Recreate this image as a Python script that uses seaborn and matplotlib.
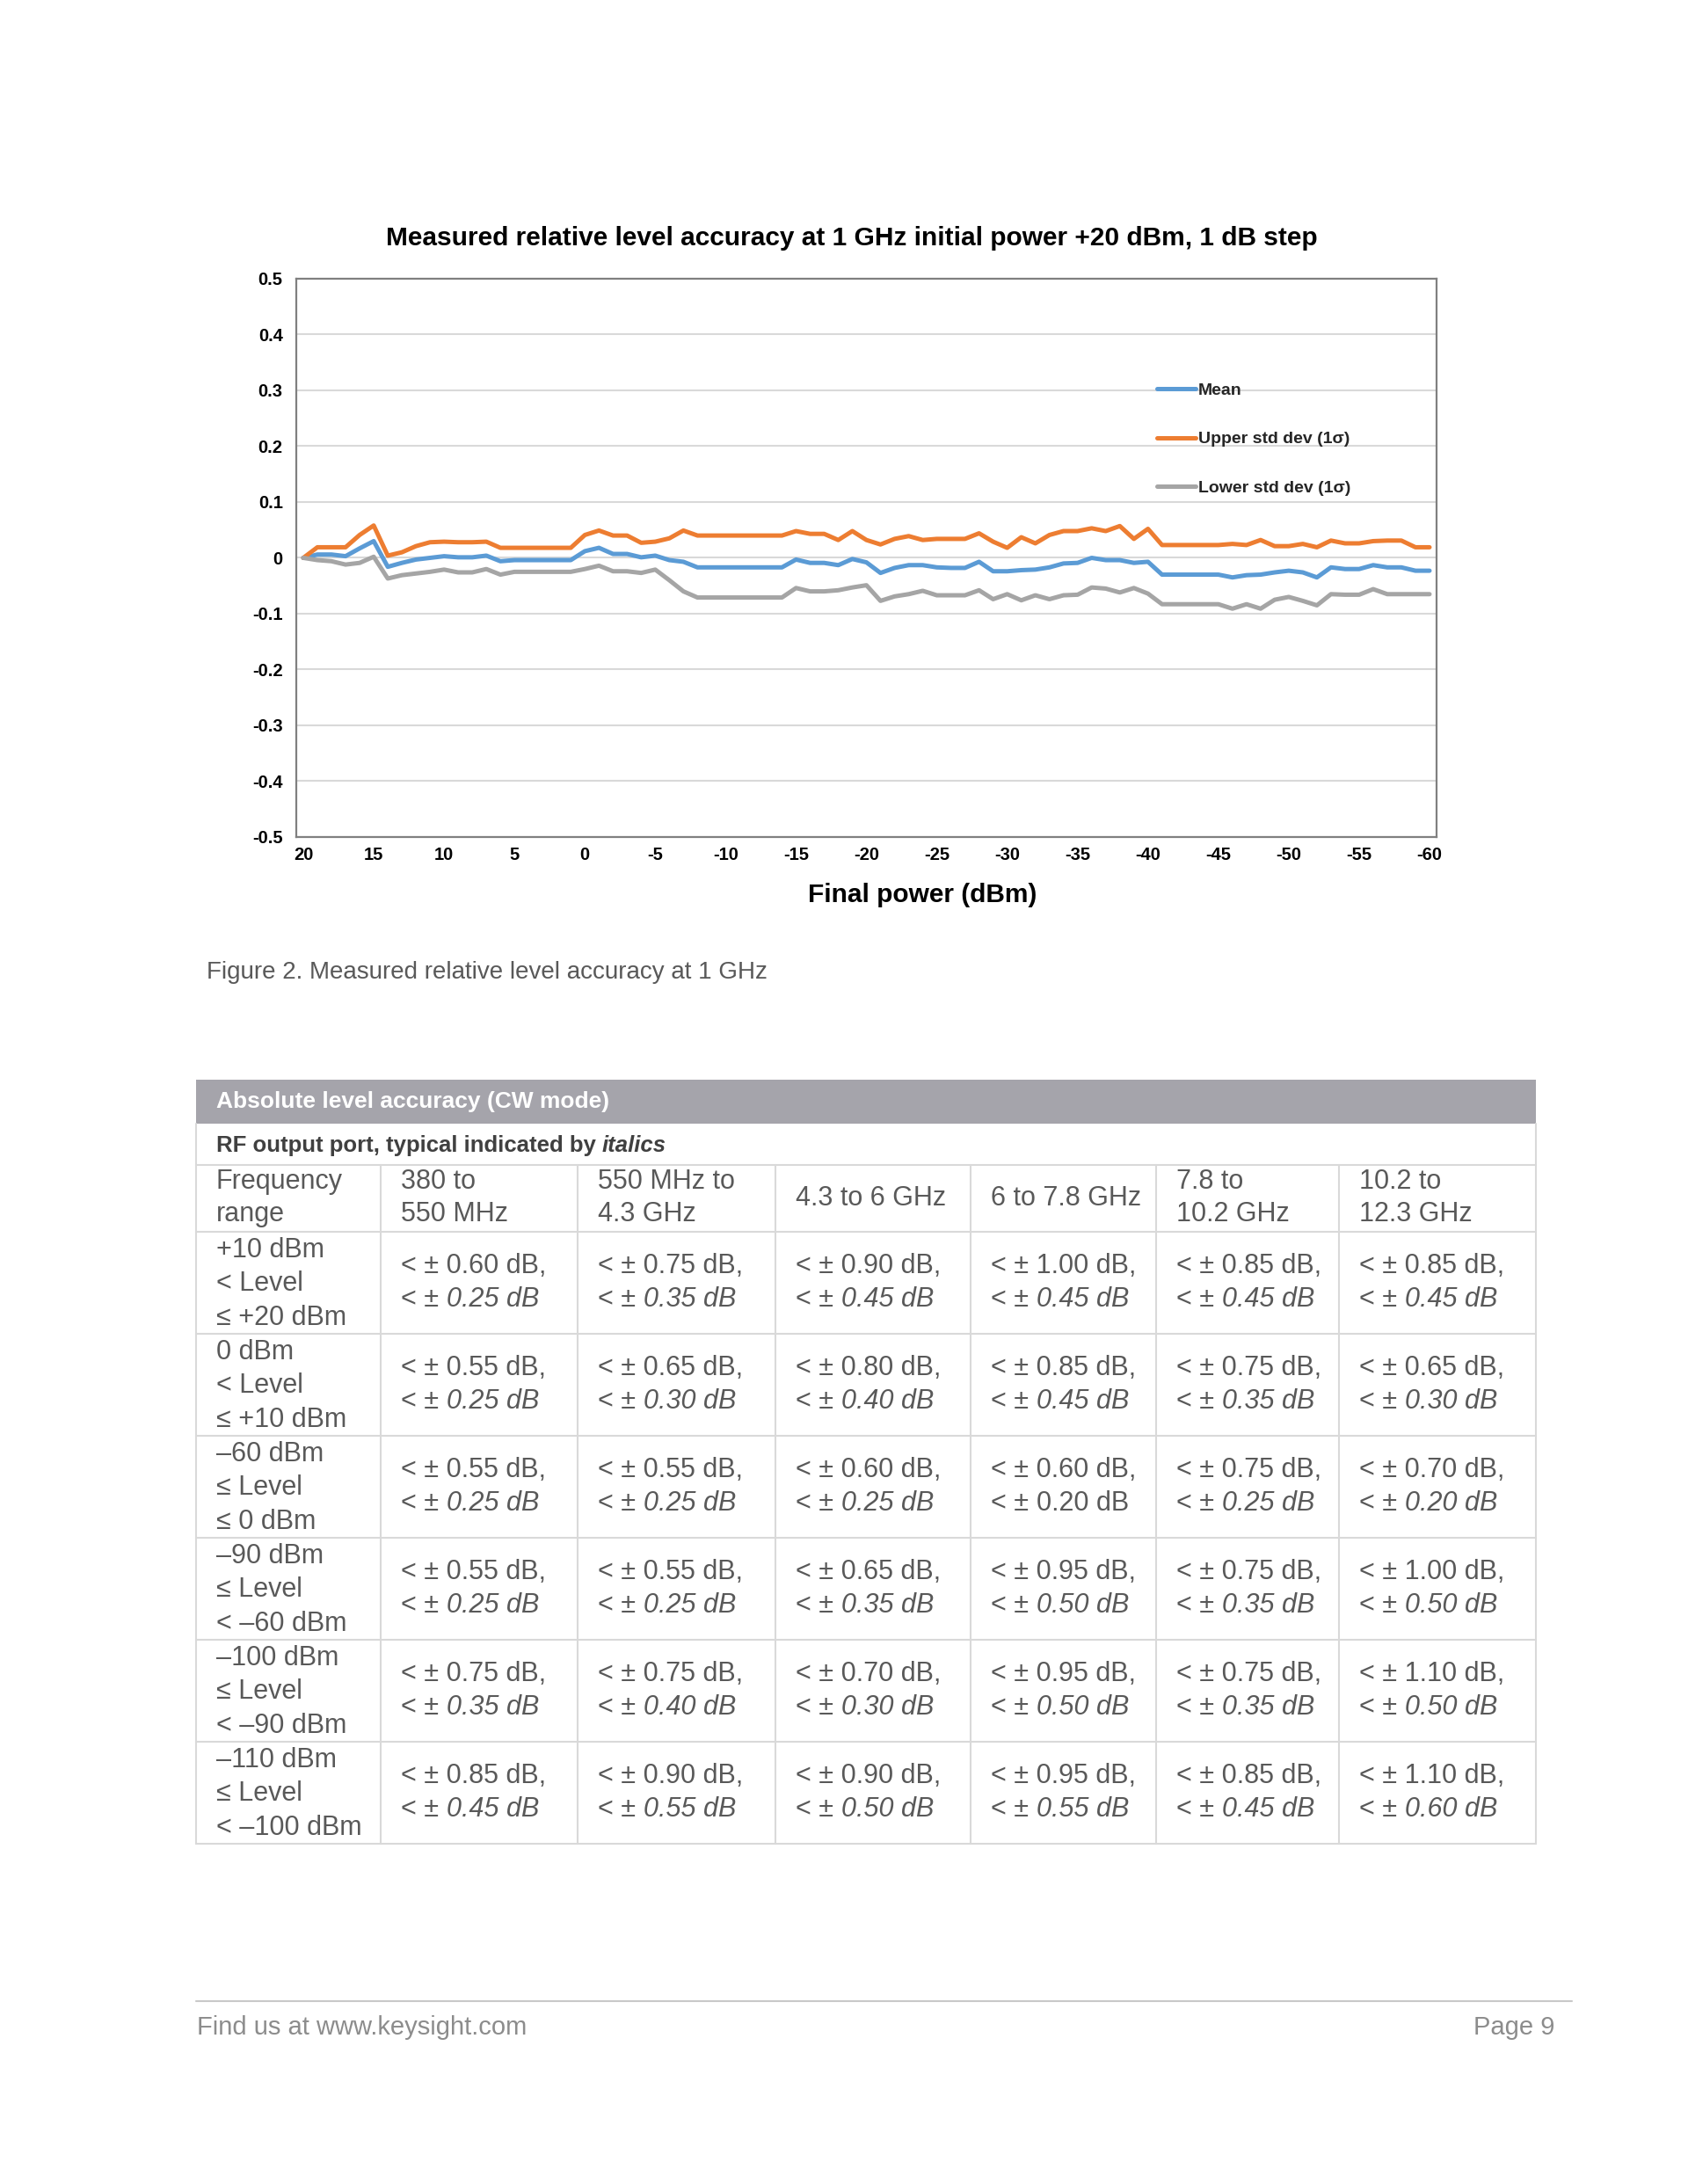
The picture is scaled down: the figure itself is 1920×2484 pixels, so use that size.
import numpy as np
import pandas as pd
import seaborn as sns
import matplotlib.pyplot as plt
from matplotlib.patches import Rectangle

# ---- chart data ----
power = list(range(20, -61, -1))

mean_db = [0.000, 0.006, 0.006, 0.003, 0.017, 0.030, -0.016, -0.009, -0.003, 0.000,
           0.003, 0.001, 0.001, 0.004, -0.006, -0.004, -0.004, -0.004, -0.004, -0.004,
           0.012, 0.018, 0.007, 0.007, 0.001, 0.004, -0.004, -0.007, -0.017, -0.017,
           -0.017, -0.017, -0.017, -0.017, -0.017, -0.003, -0.009, -0.009, -0.013, -0.002,
           -0.008, -0.027, -0.018, -0.013, -0.013, -0.017, -0.018, -0.018, -0.007, -0.024,
           -0.024, -0.022, -0.021, -0.017, -0.010, -0.009, 0.000, -0.004, -0.004, -0.009,
           -0.007, -0.030, -0.030, -0.030, -0.030, -0.030, -0.035, -0.031, -0.030, -0.026,
           -0.023, -0.026, -0.035, -0.017, -0.020, -0.020, -0.013, -0.017, -0.017, -0.023,
           -0.023]

upper_db = [0.000, 0.019, 0.019, 0.019, 0.041, 0.058, 0.004, 0.010, 0.021, 0.028,
            0.029, 0.028, 0.028, 0.029, 0.018, 0.018, 0.018, 0.018, 0.018, 0.018,
            0.041, 0.049, 0.040, 0.040, 0.027, 0.029, 0.035, 0.049, 0.040, 0.040,
            0.040, 0.040, 0.040, 0.040, 0.040, 0.048, 0.043, 0.043, 0.032, 0.048,
            0.032, 0.024, 0.034, 0.039, 0.032, 0.034, 0.034, 0.034, 0.044, 0.029,
            0.018, 0.037, 0.026, 0.041, 0.048, 0.048, 0.053, 0.048, 0.057, 0.034,
            0.052, 0.023, 0.023, 0.023, 0.023, 0.023, 0.025, 0.023, 0.032, 0.021,
            0.021, 0.025, 0.019, 0.031, 0.026, 0.026, 0.030, 0.031, 0.031, 0.019,
            0.019]

lower_db = [0.000, -0.004, -0.006, -0.012, -0.009, 0.002, -0.037, -0.031, -0.028, -0.025,
            -0.021, -0.026, -0.026, -0.020, -0.030, -0.025, -0.025, -0.025, -0.025, -0.025,
            -0.020, -0.014, -0.024, -0.024, -0.027, -0.021, -0.040, -0.060, -0.071, -0.071,
            -0.071, -0.071, -0.071, -0.071, -0.071, -0.054, -0.060, -0.060, -0.058, -0.053,
            -0.049, -0.077, -0.069, -0.065, -0.059, -0.067, -0.067, -0.067, -0.058, -0.074,
            -0.065, -0.076, -0.067, -0.074, -0.067, -0.066, -0.053, -0.055, -0.062, -0.054,
            -0.064, -0.083, -0.083, -0.083, -0.083, -0.083, -0.091, -0.083, -0.091, -0.075,
            -0.070, -0.077, -0.085, -0.065, -0.066, -0.066, -0.056, -0.065, -0.065, -0.065,
            -0.065]

series_names = ["Mean", "Upper std dev (1σ)", "Lower std dev (1σ)"]
series_colors = ["#5b9bd5", "#ed7d31", "#a5a5a5"]

x_ticks = power[::5]
y_ticks = [-0.5, -0.4, -0.3, -0.2, -0.1, 0.0, 0.1, 0.2, 0.3, 0.4, 0.5]

# ---- table data ----
freq_ranges = ["380 to\n550 MHz", "550 MHz to\n4.3 GHz", "4.3 to 6 GHz",
               "6 to 7.8 GHz", "7.8 to\n10.2 GHz", "10.2 to\n12.3 GHz"]
level_ranges = ["+10 dBm\n< Level\n≤ +20 dBm", "0 dBm\n< Level\n≤ +10 dBm",
                "–60 dBm\n≤ Level\n≤ 0 dBm", "–90 dBm\n≤ Level\n< –60 dBm",
                "–100 dBm\n≤ Level\n< –90 dBm", "–110 dBm\n≤ Level\n< –100 dBm"]
spec_db = [[0.60, 0.75, 0.90, 1.00, 0.85, 0.85],
           [0.55, 0.65, 0.80, 0.85, 0.75, 0.65],
           [0.55, 0.55, 0.60, 0.60, 0.75, 0.70],
           [0.55, 0.55, 0.65, 0.95, 0.75, 1.00],
           [0.75, 0.75, 0.70, 0.95, 0.75, 1.10],
           [0.85, 0.90, 0.90, 0.95, 0.85, 1.10]]
typ_db = [[0.25, 0.35, 0.45, 0.45, 0.45, 0.45],
          [0.25, 0.30, 0.40, 0.45, 0.35, 0.30],
          [0.25, 0.25, 0.25, 0.20, 0.25, 0.20],
          [0.25, 0.25, 0.35, 0.50, 0.35, 0.50],
          [0.35, 0.40, 0.30, 0.50, 0.35, 0.50],
          [0.45, 0.55, 0.50, 0.55, 0.45, 0.60]]
# cells whose second value is printed upright (not typical)
upright_cells = [(2, 3)]

sns.set_theme(style="white")
plt.rcParams['font.family'] = ['Liberation Sans', 'DejaVu Sans']
plt.rcParams['axes.unicode_minus'] = False
narrow = ['Liberation Sans Narrow', 'Liberation Sans', 'DejaVu Sans']

df = pd.DataFrame({
    'power': power * 3,
    'value': mean_db + upper_db + lower_db,
    'series': [series_names[0]] * len(power) + [series_names[1]] * len(power)
              + [series_names[2]] * len(power),
})

W, H = 1920, 2484
fig = plt.figure(figsize=(W / 100, H / 100), dpi=100)

# overlay in pixel coordinates for the page text and table
ov = fig.add_axes([0, 0, 1, 1])
ov.set_xlim(0, W)
ov.set_ylim(H, 0)
ov.axis('off')

ax = fig.add_axes([337 / W, 1 - 952 / H, 1297 / W, 635 / H])
sns.lineplot(data=df, x='power', y='value', hue='series', hue_order=series_names,
             palette=series_colors, linewidth=3.6, ax=ax)
for ln in ax.lines:
    ln.set_solid_capstyle('round')
    ln.set_solid_joinstyle('round')

ax.set_xlim(20.5, -60.5)
ax.set_ylim(-0.5, 0.5)
ax.set_xticks(x_ticks)
ax.set_xticklabels([str(v) for v in x_ticks])
ax.set_yticks(y_ticks)
ax.set_yticklabels(["0" if v == 0 else f"{v:.1f}" for v in y_ticks])
ax.tick_params(axis='both', length=0, labelsize=14.5, labelcolor='black')
ax.tick_params(axis='x', pad=8)
ax.tick_params(axis='y', pad=11)
for lab in ax.get_xticklabels() + ax.get_yticklabels():
    lab.set_fontweight('bold')
ax.yaxis.grid(True, color='#d9d9d9', linewidth=1.5)
ax.set_axisbelow(True)
for sp in ax.spines.values():
    sp.set_color('#808080')
    sp.set_linewidth(1.6)
ax.set_ylabel('')
ax.set_xlabel('Final power (dBm)', fontsize=21.5, fontweight='bold', color='black')
ax.xaxis.set_label_coords(0.549, -0.082)

handles, labels = ax.get_legend_handles_labels()
ax.legend(handles, labels, loc='upper left', bbox_to_anchor=(0.749, 0.826),
          frameon=False, prop={'size': 14, 'weight': 'bold'}, handlelength=2.25,
          handletextpad=0.15, labelspacing=1.95, borderaxespad=0)

ov.text(969, 271, 'Measured relative level accuracy at 1 GHz initial power +20 dBm, 1 dB step',
        ha='center', va='center', fontsize=21.5, fontweight='bold', color='black')
ov.text(235, 1106, 'Figure 2. Measured relative level accuracy at 1 GHz',
        ha='left', va='center', fontsize=20, color='#595959')

# ---- table ----
col_edges = [223, 433, 657, 882, 1104, 1315, 1523, 1747]
band_top, band_bot = 1228, 1278
sub_bot = 1325
head_bot = 1401
row_h = 116
grid_c = '#d9d9d9'
txt_c = '#595959'
cell_fs = 22

ov.add_patch(Rectangle((col_edges[0], band_top), col_edges[-1] - col_edges[0],
                       band_bot - band_top, color='#a5a4ab', lw=0))
ov.text(246, 1253, 'Absolute level accuracy (CW mode)', ha='left', va='center',
        fontsize=19, fontweight='bold', color='white', family=narrow)
t1 = ov.text(246, 1303, 'RF output port, typical indicated by ', ha='left', va='center',
             fontsize=18.5, fontweight='bold', color='#404040', family=narrow)
ov.annotate('italics', xy=(1, 0.5), xycoords=t1, ha='left', va='center', fontsize=18.5,
            fontweight='bold', style='italic', color='#404040', family=narrow)

table_bot = head_bot + row_h * len(level_ranges)
h_lines = [sub_bot, head_bot] + [head_bot + row_h * (k + 1) for k in range(len(level_ranges))]
for yy in h_lines:
    ov.plot([col_edges[0], col_edges[-1]], [yy, yy], color=grid_c, lw=1.5)
ov.plot([col_edges[0], col_edges[0]], [band_bot, table_bot], color=grid_c, lw=1.5)
ov.plot([col_edges[-1], col_edges[-1]], [band_bot, table_bot], color=grid_c, lw=1.5)
for xx in col_edges[1:-1]:
    ov.plot([xx, xx], [sub_bot, table_bot], color=grid_c, lw=1.5)

pad = 23
# header row
ov.text(col_edges[0] + pad, 1344, 'Frequency', ha='left', va='center', fontsize=cell_fs, color=txt_c)
ov.text(col_edges[0] + pad, 1381, 'range', ha='left', va='center', fontsize=cell_fs, color=txt_c)
for j, fr in enumerate(freq_ranges):
    parts = fr.split('\n')
    x0 = col_edges[j + 1] + pad
    if len(parts) == 1:
        ov.text(x0, 1363, parts[0], ha='left', va='center', fontsize=cell_fs, color=txt_c)
    else:
        ov.text(x0, 1344, parts[0], ha='left', va='center', fontsize=cell_fs, color=txt_c)
        ov.text(x0, 1381, parts[1], ha='left', va='center', fontsize=cell_fs, color=txt_c)

# data rows
for i, lv in enumerate(level_ranges):
    top = head_bot + row_h * i
    for k, part in enumerate(lv.split('\n')):
        ov.text(col_edges[0] + pad, top + 21 + 38.5 * k, part, ha='left', va='center',
                fontsize=cell_fs, color=txt_c)
    for j in range(len(freq_ranges)):
        x0 = col_edges[j + 1] + pad
        ov.text(x0, top + 39, f'< ± {spec_db[i][j]:.2f} dB,', ha='left', va='center',
                fontsize=cell_fs, color=txt_c)
        pre = ov.text(x0, top + 77, '< ± ', ha='left', va='center', fontsize=cell_fs, color=txt_c)
        style = 'normal' if (i, j) in upright_cells else 'italic'
        ov.annotate(f'{typ_db[i][j]:.2f} dB', xy=(1, 0.5), xycoords=pre, ha='left',
                    va='center', fontsize=cell_fs, color=txt_c, style=style)

# ---- footer ----
ov.plot([223, 1788], [2276, 2276], color='#c8c8c8', lw=1.5)
ov.text(224, 2306, 'Find us at www.keysight.com', ha='left', va='center', fontsize=21,
        color='#8c8c8c', family=narrow)
ov.text(1768, 2306, 'Page 9', ha='right', va='center', fontsize=21,
        color='#8c8c8c', family=narrow)

fig.savefig('out.png', dpi=100)
plt.close(fig)
